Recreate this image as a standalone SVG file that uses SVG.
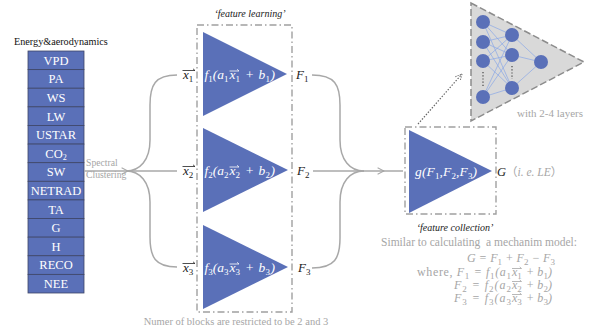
<svg xmlns="http://www.w3.org/2000/svg" width="594" height="335" viewBox="0 0 594 335">
<style>
.cell{fill:#5a70b8;stroke:#3e4566;stroke-width:0.8}
.lbl{font-family:"Liberation Serif",serif;font-size:12.5px;fill:#ffffff;text-anchor:middle}
.tri{fill:#5a70b8}
.frm{font-family:"Liberation Serif",serif;font-style:italic;font-size:13.5px;fill:#ffffff}
.var{font-family:"Liberation Serif",serif;font-style:italic;font-size:13px;fill:#222}
.sub{font-size:9px;font-style:normal}
.gray{font-family:"Liberation Serif",serif;fill:#a6a6a6}
.gvar{font-family:"Liberation Serif",serif;font-style:italic;font-size:12px;fill:#a6a6a6}
.cap{font-family:"Liberation Serif",serif;font-style:italic;font-size:10px;fill:#222;text-anchor:middle}
.dd{fill:none;stroke:#a0a0a0;stroke-width:1.4;stroke-dasharray:7 3 1.5 3}
.conn{fill:none;stroke:#a8a8a8;stroke-width:1.5}
.node{fill:#5a70b8}
.nl{stroke:#8aa8e6;stroke-width:0.7}
.ob{fill:none;stroke:#222;stroke-width:0.8}
.obw{fill:none;stroke:#fff;stroke-width:0.8}
.obg{fill:none;stroke:#a6a6a6;stroke-width:0.8}
</style>
<defs>
<marker id="open" viewBox="0 0 10 10" refX="9" refY="5" markerWidth="8" markerHeight="8" markerUnits="userSpaceOnUse" orient="auto">
<path d="M1,1 L9,5 L1,9" fill="none" stroke="#a8a8a8" stroke-width="1.3"/>
</marker>
<marker id="dot" viewBox="0 0 10 10" refX="9" refY="5" markerWidth="8" markerHeight="8" markerUnits="userSpaceOnUse" orient="auto">
<path d="M1,1 L9,5 L1,9" fill="none" stroke="#666" stroke-width="1.2" stroke-dasharray="1.5 1.5"/>
</marker>
</defs>
<rect width="594" height="335" fill="#ffffff"/>

<g id="inputs">
<text x="14" y="45" font-family="Liberation Serif, serif" font-size="10.2" fill="#111">Energy&amp;aerodynamics</text>
<rect class="cell" x="28" y="51" width="56" height="18.62"/>
<rect class="cell" x="28" y="69.62" width="56" height="18.62"/>
<rect class="cell" x="28" y="88.23" width="56" height="18.62"/>
<rect class="cell" x="28" y="106.85" width="56" height="18.62"/>
<rect class="cell" x="28" y="125.46" width="56" height="18.62"/>
<rect class="cell" x="28" y="144.08" width="56" height="18.62"/>
<rect class="cell" x="28" y="162.69" width="56" height="18.62"/>
<rect class="cell" x="28" y="181.31" width="56" height="18.62"/>
<rect class="cell" x="28" y="199.92" width="56" height="18.62"/>
<rect class="cell" x="28" y="218.54" width="56" height="18.62"/>
<rect class="cell" x="28" y="237.15" width="56" height="18.62"/>
<rect class="cell" x="28" y="255.77" width="56" height="18.62"/>
<rect class="cell" x="28" y="274.38" width="56" height="18.62"/>
<text class="lbl" x="56" y="64.8">VPD</text>
<text class="lbl" x="56" y="83.4">PA</text>
<text class="lbl" x="56" y="102">WS</text>
<text class="lbl" x="56" y="120.6">LW</text>
<text class="lbl" x="56" y="139.2">USTAR</text>
<text class="lbl" x="56" y="157.8">CO<tspan font-size="8" dy="2">2</tspan></text>
<text class="lbl" x="56" y="176.4">SW</text>
<text class="lbl" x="56" y="195">NETRAD</text>
<text class="lbl" x="56" y="213.6">TA</text>
<text class="lbl" x="56" y="232.2">G</text>
<text class="lbl" x="56" y="250.8">H</text>
<text class="lbl" x="56" y="269.4">RECO</text>
<text class="lbl" x="56" y="288">NEE</text>
</g>

<g id="connectors">
<path class="conn" d="M84,171 H128" marker-end="url(#open)"/>
<path class="conn" d="M126,171 H177"/>
<path class="conn" d="M177,75 C155,75 150,85 150,105 L150,140 C150,160 140,171 126,171"/>
<path class="conn" d="M177,267 C155,267 150,257 150,237 L150,202 C150,182 140,171 126,171"/>
<path class="conn" d="M312,75 C335,75 340,85 340,105 L340,140 C340,160 350,171 364,171"/>
<path class="conn" d="M312,268 C335,268 340,258 340,238 L340,202 C340,182 350,171 364,171"/>
<path class="conn" d="M313,171 H384" marker-end="url(#open)"/>
<path class="conn" d="M382,171 H403"/>
<path d="M418,124 L462,74" fill="none" stroke="#666" stroke-width="1.2" stroke-dasharray="1.5 1.5" marker-end="url(#dot)"/>
</g>

<g id="spectral">
<text class="gray" x="86" y="166" font-size="9.7">Spectral</text>
<text class="gray" x="86" y="178" font-size="9.7">Clustering</text>
</g>

<g id="feature-learning">
<text class="cap" x="250" y="17">‘feature learning’</text>
<rect class="dd" x="197" y="25" width="95" height="287"/>
</g>

<g id="block1">
<polygon class="tri" points="203,32 287,74 203,116"/>
<text class="frm" x="204.5" y="79" textLength="24" lengthAdjust="spacing">f<tspan class="sub" dy="2.5">1</tspan><tspan dy="-2.5">(a</tspan><tspan class="sub" dy="2.5">1</tspan></text>
<text class="frm" x="229.5" y="79">x<tspan class="sub" dy="2.5">1</tspan></text>
<text class="frm" x="245" y="79" textLength="30" lengthAdjust="spacing">+ b<tspan class="sub" dy="2.5">1</tspan><tspan dy="-2.5">)</tspan></text>
<path class="obw" d="M229.5,71 H239 M237,69.3 L239,71"/>
<text class="var" x="183" y="79">x<tspan class="sub" dy="2.5">1</tspan></text>
<path class="ob" d="M182.5,70.5 H195 M193,68.8 L195,70.5"/>
<text class="var" x="296" y="79">F<tspan class="sub" dy="2.5">1</tspan></text>
</g>

<g id="block2">
<polygon class="tri" points="203,128 288,170 203,212"/>
<text class="frm" x="204.5" y="175" textLength="24" lengthAdjust="spacing">f<tspan class="sub" dy="2.5">2</tspan><tspan dy="-2.5">(a</tspan><tspan class="sub" dy="2.5">2</tspan></text>
<text class="frm" x="229.5" y="175">x<tspan class="sub" dy="2.5">2</tspan></text>
<text class="frm" x="245" y="175" textLength="30" lengthAdjust="spacing">+ b<tspan class="sub" dy="2.5">2</tspan><tspan dy="-2.5">)</tspan></text>
<path class="obw" d="M229.5,167 H239 M237,165.3 L239,167"/>
<text class="var" x="183" y="175">x<tspan class="sub" dy="2.5">2</tspan></text>
<path class="ob" d="M182.5,166.5 H195 M193,164.8 L195,166.5"/>
<text class="var" x="297" y="175">F<tspan class="sub" dy="2.5">2</tspan></text>
</g>

<g id="block3">
<polygon class="tri" points="203,225 288,267 203,309"/>
<text class="frm" x="204.5" y="272" textLength="24" lengthAdjust="spacing">f<tspan class="sub" dy="2.5">3</tspan><tspan dy="-2.5">(a</tspan><tspan class="sub" dy="2.5">3</tspan></text>
<text class="frm" x="229.5" y="272">x<tspan class="sub" dy="2.5">3</tspan></text>
<text class="frm" x="245" y="272" textLength="30" lengthAdjust="spacing">+ b<tspan class="sub" dy="2.5">3</tspan><tspan dy="-2.5">)</tspan></text>
<path class="obw" d="M229.5,264 H239 M237,262.3 L239,264"/>
<text class="var" x="183" y="272">x<tspan class="sub" dy="2.5">3</tspan></text>
<path class="ob" d="M182.5,263.5 H195 M193,261.8 L195,263.5"/>
<text class="var" x="298" y="272">F<tspan class="sub" dy="2.5">3</tspan></text>
</g>

<text class="gray" x="236" y="325" font-size="10.5" text-anchor="middle">Numer of blocks are restricted to be 2 and 3</text>

<g id="feature-collection">
<rect class="dd" x="405" y="127" width="91" height="87"/>
<polygon class="tri" points="409,130 492,171 409,213"/>
<text class="frm" x="415" y="176" textLength="62" lengthAdjust="spacing">g(F<tspan class="sub" dy="2.5">1</tspan><tspan dy="-2.5">,F</tspan><tspan class="sub" dy="2.5">2</tspan><tspan dy="-2.5">,F</tspan><tspan class="sub" dy="2.5">3</tspan><tspan dy="-2.5">)</tspan></text>
<text x="497" y="176" font-family="Liberation Serif, serif" font-style="italic" font-size="12.5" fill="#222">G</text>
<text x="506" y="176" font-family="Liberation Serif, 'Noto Sans CJK SC', serif" font-size="11.5" fill="#a6a6a6">（<tspan font-style="italic">i. e. LE</tspan>）</text>
<text class="cap" x="455" y="231">‘feature collection’</text>
</g>

<g id="mechanism-note">
<text class="gray" x="381" y="246" font-size="11.5" textLength="196" lengthAdjust="spacing" style="white-space:pre">Similar to calculating  a mechanim model:</text>
<text class="gvar" x="467" y="262" textLength="88" lengthAdjust="spacing">G = F<tspan class="sub" dy="2.5">1</tspan><tspan dy="-2.5"> + F</tspan><tspan class="sub" dy="2.5">2</tspan><tspan dy="-2.5"> − F</tspan><tspan class="sub" dy="2.5">3</tspan></text>
<text class="gvar" x="417" y="276" textLength="94" lengthAdjust="spacing"><tspan font-style="normal">where, </tspan>F<tspan class="sub" dy="2.5">1</tspan><tspan dy="-2.5"> = f</tspan><tspan class="sub" dy="2.5">1</tspan><tspan dy="-2.5">(a</tspan><tspan class="sub" dy="2.5">1</tspan></text>
<text class="gvar" x="512" y="276">x<tspan class="sub" dy="2.5">1</tspan></text>
<text class="gvar" x="526" y="276" textLength="26" lengthAdjust="spacing">+ b<tspan class="sub" dy="2.5">1</tspan><tspan dy="-2.5">)</tspan></text>
<path class="obg" d="M512,268.5 H521.5 M519.7,266.9 L521.5,268.5"/>
<text class="gvar" x="454" y="289" textLength="57" lengthAdjust="spacing">F<tspan class="sub" dy="2.5">2</tspan><tspan dy="-2.5"> = f</tspan><tspan class="sub" dy="2.5">2</tspan><tspan dy="-2.5">(a</tspan><tspan class="sub" dy="2.5">2</tspan></text>
<text class="gvar" x="512" y="289">x<tspan class="sub" dy="2.5">2</tspan></text>
<text class="gvar" x="526" y="289" textLength="26" lengthAdjust="spacing">+ b<tspan class="sub" dy="2.5">2</tspan><tspan dy="-2.5">)</tspan></text>
<path class="obg" d="M512,281.5 H521.5 M519.7,279.9 L521.5,281.5"/>
<text class="gvar" x="454" y="302" textLength="57" lengthAdjust="spacing">F<tspan class="sub" dy="2.5">3</tspan><tspan dy="-2.5"> = f</tspan><tspan class="sub" dy="2.5">3</tspan><tspan dy="-2.5">(a</tspan><tspan class="sub" dy="2.5">3</tspan></text>
<text class="gvar" x="512" y="302">x<tspan class="sub" dy="2.5">3</tspan></text>
<text class="gvar" x="526" y="302" textLength="26" lengthAdjust="spacing">+ b<tspan class="sub" dy="2.5">3</tspan><tspan dy="-2.5">)</tspan></text>
<path class="obg" d="M512,294.5 H521.5 M519.7,292.9 L521.5,294.5"/>
</g>

<g id="neural-network">
<polygon points="471,3 584,62 471,121" fill="#d9d9d9" stroke="#8c8c8c" stroke-width="1.5" stroke-dasharray="7 3"/>
<g class="nl">
<line x1="483" y1="22" x2="512" y2="35"/><line x1="483" y1="22" x2="512" y2="55"/><line x1="483" y1="22" x2="512" y2="88"/>
<line x1="483" y1="42" x2="512" y2="35"/><line x1="483" y1="42" x2="512" y2="55"/><line x1="483" y1="42" x2="512" y2="88"/>
<line x1="483" y1="61" x2="512" y2="35"/><line x1="483" y1="61" x2="512" y2="55"/><line x1="483" y1="61" x2="512" y2="88"/>
<line x1="483" y1="97" x2="512" y2="35"/><line x1="483" y1="97" x2="512" y2="55"/><line x1="483" y1="97" x2="512" y2="88"/>
<line x1="512" y1="35" x2="541" y2="62"/><line x1="512" y1="55" x2="541" y2="62"/><line x1="512" y1="88" x2="541" y2="62"/>
</g>
<circle class="node" cx="483" cy="22" r="7"/>
<circle class="node" cx="483" cy="42" r="7"/>
<circle class="node" cx="483" cy="61" r="7"/>
<circle class="node" cx="483" cy="97" r="7"/>
<circle class="node" cx="512" cy="35" r="7"/>
<circle class="node" cx="512" cy="55" r="7"/>
<circle class="node" cx="512" cy="88" r="7"/>
<circle class="node" cx="541" cy="62" r="7"/>
<path d="M483,72 V86 M512,66 V79" stroke="#444" stroke-width="1.2" stroke-dasharray="1.2 2"/>
<text class="gray" x="517" y="117" font-size="11">with 2-4 layers</text>
</g>
</svg>
